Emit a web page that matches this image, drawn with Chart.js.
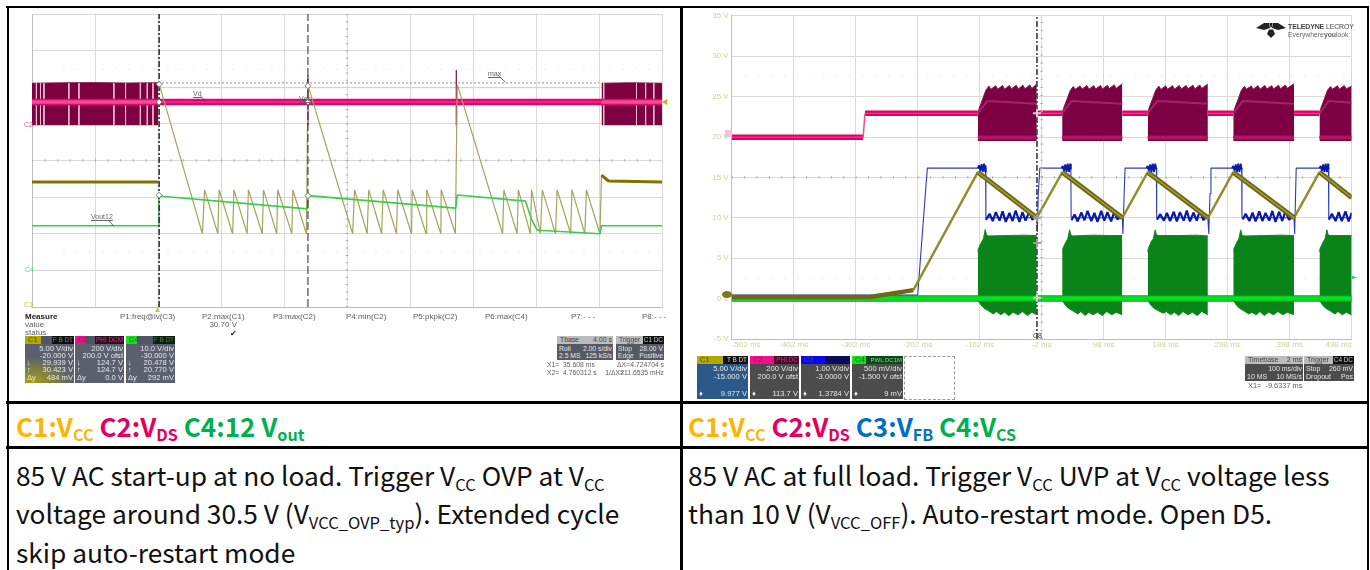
<!DOCTYPE html>
<html><head><meta charset="utf-8">
<script src="https://cdn.jsdelivr.net/npm/chart.js@4/dist/chart.umd.min.js"></script>
<style>
html,body{margin:0;padding:0;background:#fff;width:1370px;height:570px;overflow:hidden}
.a{position:absolute;white-space:nowrap}
.rule{position:absolute;background:#000}
.txt{font-family:"Noto Sans CJK SC","Noto Sans",sans-serif;font-size:26.3px;color:#111;line-height:30px}
.hd{font-family:"Noto Sans CJK SC","Noto Sans",sans-serif;font-size:26px;font-weight:700;line-height:30px}
.txt sub{font-size:.63em;vertical-align:-.28em;line-height:0}
.hd sub{font-size:.62em;vertical-align:-.26em;line-height:0}
.scope{position:absolute;left:0;top:0;width:1370px;height:403px;filter:blur(.5px)}
canvas{position:absolute}
.s{font-family:"Liberation Sans",sans-serif;font-size:8px;color:#5c5c5c;line-height:9px}
.box{position:absolute;font-family:"Liberation Sans",sans-serif;font-size:7.6px;color:#e8e8e8;overflow:hidden}
.box div{position:absolute;white-space:nowrap}
</style></head><body>
<div class="scope" id="scope">
<canvas id="left" width="655" height="305" style="left:20px;top:8px"></canvas>
<canvas id="right" width="675" height="345" style="left:690px;top:8px"></canvas>
</div>
<div class="rule" style="left:6px;top:6px;width:1363px;height:2px"></div>
<div class="rule" style="left:6px;top:401px;width:1363px;height:3px"></div>
<div class="rule" style="left:6px;top:446px;width:1363px;height:3px"></div>
<div class="rule" style="left:7px;top:6px;width:2px;height:564px"></div>
<div class="rule" style="left:680px;top:6px;width:3px;height:564px"></div>
<div class="rule" style="left:1367px;top:6px;width:2px;height:564px"></div>

<div class="a hd" style="left:16px;top:411px"><span style="color:#ffb400">C1:V<sub>CC</sub></span> <span style="color:#e4005c">C2:V<sub>DS</sub></span> <span style="color:#00b050">C4:12 V<sub>out</sub></span></div>
<div class="a hd" style="left:688px;top:411px"><span style="color:#ffb400">C1:V<sub>CC</sub></span> <span style="color:#e4005c">C2:V<sub>DS</sub></span> <span style="color:#0070c0">C3:V<sub>FB</sub></span> <span style="color:#00b050">C4:V<sub>CS</sub></span></div>
<div class="a txt" style="left:16px;top:460px">85 V AC start-up at no load. Trigger V<sub>CC</sub> OVP at V<sub>CC</sub></div>
<div class="a txt" style="left:16px;top:498px">voltage around 30.5 V (V<sub>VCC_OVP_typ</sub>). Extended cycle</div>
<div class="a txt" style="left:16px;top:537px">skip auto-restart mode</div>
<div class="a txt" style="left:688px;top:460px">85 V AC at full load. Trigger V<sub>CC</sub> UVP at V<sub>CC</sub> voltage less</div>
<div class="a txt" style="left:688px;top:498px">than 10 V (V<sub>VCC_OFF</sub>). Auto-restart mode. Open D5.</div>

<script>
/* ---------- left capture: 2 s/div ---------- */
const leftTimeMin = -4, leftTimeMax = 16;
const lVccFlatT = [-4, 0, 0, 14.08, 14.3, 16];
const lVccFlatV = [17.05, 17.05, null, 18, 17.2, 17.05];
const lVccT = [0.04,1.41,1.48,1.90,1.94,2.37,2.41,2.83,2.87,3.31,3.35,3.77,3.80,4.25,4.28,4.71,4.76,
  6.18,6.24,6.64,6.69,7.10,7.15,7.57,7.61,8.05,8.07,8.51,8.53,8.98,8.99,9.44,9.50,
  10.94,10.98,11.40,11.44,11.82,11.86,12.14,12.20,12.62,12.67,13.10,13.14,13.55,13.60,14.03,14.08];
const lVccV = [30.4,10,16,10,16,10,16,10,16,10,16,10,16,10,16,10,30.3,
  10,16,10,16,10,16,10,16,10,16,10,16,10,16,10,30.4,
  10,16,10,16,10,16,10,16,10,16,10,16,10,16,10,18];
const lVoutT = [-4,0,0.03,4.74,4.77,9.45,9.50,11.67,11.85,12.04,12.2,14.03,14.08,16];
const lVoutV = [12.2,12.2,20.3,16.8,20.4,17.0,20.6,18.9,14,11.0,10.9,10.0,12.2,12.2];
const lBurstT = [-4,-3,-2,-1,0,0, 14.08,15,16];
const lBurstTop = [222,224,225,223,224,null,222,224,222];
const lBurstBottom = -7;
const lSlitT = [-3.86,-3.73,-3.62,-2.83,-2.51,-1.40,-1.03,-0.56,-0.34,-0.16,14.15,15.19,15.48,15.74];
const lBandT = [-4,16], lBandV = [119,119];
const lBandLightT = [-4,0,0,14.08,16], lBandLightV = [119,119,null,119,119];
const lSpikeT = [4.76,4.76,4.76,9.47,9.47];
const lSpikeV = [267,-7,null,294,-7];
const lMarkT = [0.0356,4.7603];
const lCursorC1 = [30.4,30.2], lCursorC2 = [119,119], lCursorC4 = [20.5,20.4];
const lLeaderT = [1.35,1.51,1.51,-1.57,-1.41,-1.41,10.78,11.03];
const lLeaderV = [152,125,null,-526,-558,null,267,228];
const lCursorLevels = [30.6,29.94];

/* ---------- right capture: 100 ms/div ---------- */
const rightTimeMin = -502, rightTimeMax = 498;
const rTicks = [-502,-402,-302,-202,-102,-2,98,198,298,398,498];
const rVccBaseT = [-502,-279,-209], rVccBaseV = [0.2,0.2,1.05];
const rVccT = [-209,-105,-10,31.3,128,169,266,307,405,446,498];
const rVccV = [1.05,15.65,10,15.65,10,15.65,10,15.65,10,15.65,12.5];
const rFallT = [-105,-10,-10,31.3,128,128,169,266,266,307,405,405,446,498];
const rFallV = [15.65,10,null,15.65,10,null,15.65,10,null,15.65,10,null,15.65,12.5];
const rDsPlateT = [-502,-290,-290,-287,-105,-105,-10,31,31,128,169,169,266,307,307,405,446];
const rDsPlateV = [-1,-1,null,117,117,null,117,117,null,117,117,null,117,117,null,117,117];
const rDsStepT = [-290,-287], rDsStepV = [-1,117];
const rDsTopT = [-105,-103,-97,-92,-87,-84,-76,-73,-65,-62,-54,-51,-43,-40,-32,-29,-21,-18,-10,-10,
  31,33,39,44,49,52,60,63,71,74,82,85,93,96,104,107,115,118,128,128,
  169,171,177,182,187,190,198,201,209,212,220,223,231,234,242,245,253,256,266,266,
  307,309,315,320,325,328,336,339,347,350,358,361,369,372,380,383,391,394,405,405,
  446,448,454,459,464,467,475,478,486,489,498];
const rDsTopV = [117,140,190,232,252,236,254,236,255,236,255,238,256,238,256,238,258,240,262,null,
  117,140,188,230,250,236,253,237,255,236,254,238,255,238,256,240,258,240,264,null,
  117,142,190,232,252,235,253,236,254,237,255,238,255,239,256,238,257,240,262,null,
  117,140,188,231,251,236,252,237,254,236,255,238,254,238,256,239,257,241,263,null,
  117,140,190,232,250,236,254,237,255,238,252];
const rDsBottom = -20;
const rDsStripeT = [-105,-90,-10,-10,31,46,128,128,169,184,266,266,307,322,405,405,446,461,498];
const rDsStripeV = [117,178,165,null,117,178,165,null,117,178,165,null,117,178,165,null,117,178,170];
const rDsFootT = [-105,-10,-10,31,128,128,169,266,266,307,405,405,446,498];
const rDsFootV = [-3,-3,null,-3,-3,null,-3,-3,null,-3,-3,null,-3,-3];
const rFbThinT = [-502,-202,-186.5,-92.5,-92,-10,-9,-7.5,-5,45,45.5,128,129,131,132.5,183,183.5,266,267.5,269.5,271,320.5,321,405,406,407.5,408.5,460.5,461,498];
const rFbThinV = [.09,.09,3.23,3.23,2,2,1.65,2.6,3.23,3.23,2,2,1.6,2.6,3.23,3.23,2,2,1.6,2.6,3.23,3.23,2,2,1.6,2.6,3.23,3.23,2,2];
const rFbBurstT = [-105,-103,-101,-99,-97,-95,-93,-92.5,-92.5,30,32,34,36,38,40,42,44,45,45,167,169,171,173,175,177,179,181,183,183,305,307,309,311,313,315,317,319,320.5,320.5,446,448,450,452,454,456,458,460,460.5];
const rFbBurstV = [3.23,3.3,3.16,3.33,3.14,3.34,3.14,3.3,null,3.23,3.28,3.16,3.32,3.14,3.34,3.13,3.34,3.2,null,3.23,3.28,3.16,3.32,3.14,3.34,3.13,3.34,3.2,null,3.23,3.28,3.16,3.32,3.14,3.34,3.13,3.34,3.2,null,3.23,3.28,3.16,3.32,3.14,3.34,3.13,3.34,3.2];
const rFbRippleT = [-92,-86,-81,-76,-70,-65,-60,-54,-49,-44,-38,-33,-28,-22,-17,-12,-12,
  46,51,56,62,67,72,78,83,88,94,99,104,110,115,120,126,126,
  184,189,195,200,205,211,216,221,227,232,237,243,248,253,259,264,264,
  322,327,333,338,343,349,354,359,365,370,375,381,386,391,397,403,403,
  461,466,472,477,482,488,493,498];
const rFbRippleV = [1.95,2.1,1.92,2.14,1.93,2.16,1.9,2.12,1.92,2.18,1.9,2.14,1.93,2.16,1.95,2.05,null,
  1.94,2.08,1.91,2.13,1.94,2.17,1.92,2.12,1.9,2.17,1.93,2.14,1.91,2.15,1.96,2.03,null,
  1.95,2.09,1.93,2.12,1.92,2.15,1.91,2.14,1.93,2.18,1.91,2.13,1.93,2.17,1.94,2.05,null,
  1.96,2.1,1.92,2.13,1.91,2.16,1.92,2.12,1.93,2.17,1.9,2.15,1.92,2.16,1.95,2.04,null,
  1.95,2.1,1.92,2.14,1.92,2.16,1.91,2.12];
const rCsTopT = [-105,-104,-99,-96,-93,-91,-88,-60,-30,-10,-10,31,32,37,40,43,45,48,80,110,128,128,169,170,175,178,181,183,186,218,248,266,266,307,308,313,316,319,321,324,356,386,405,405,446,447,452,455,458,460,463,498];
const rCsTopV = [.58,.62,.70,.74,.855,.79,.775,.78,.785,.78,null,.58,.62,.70,.74,.85,.79,.775,.785,.78,.78,null,.58,.62,.71,.74,.85,.79,.78,.78,.785,.775,null,.58,.62,.70,.74,.85,.79,.775,.78,.785,.78,null,.58,.62,.70,.74,.85,.79,.78,.78];
const rCsBotT = [-105,-100,-95,-88,-80,-75,-68,-62,-55,-48,-40,-33,-25,-18,-10,-10,31,36,41,48,56,61,68,74,81,88,96,103,111,118,128,128,169,174,179,186,194,199,206,212,219,226,234,241,249,256,266,266,307,312,317,324,332,337,344,350,357,364,372,379,387,394,405,405,446,451,456,463,471,476,483,489,498];
const rCsBotV = [-.02,-.08,-.12,-.15,-.19,-.16,-.2,-.17,-.21,-.17,-.2,-.16,-.21,-.17,-.2,null,-.02,-.08,-.12,-.15,-.19,-.16,-.21,-.17,-.2,-.17,-.21,-.16,-.2,-.17,-.2,null,-.02,-.08,-.12,-.15,-.18,-.16,-.2,-.17,-.21,-.16,-.2,-.17,-.21,-.16,-.2,null,-.02,-.08,-.12,-.15,-.19,-.17,-.2,-.16,-.21,-.17,-.2,-.16,-.2,-.17,-.2,null,-.02,-.08,-.12,-.15,-.19,-.16,-.2,-.17,-.2];
const rCursorT = [-9.63];
const rCursorC1 = [10], rCursorC2 = [117], rCursorC3 = [1.378], rCursorC4 = [0.009];

const GRID = '#d9d9d9';
function ser(xs, ys, axis, opts){
  return Object.assign({type:'scatter',showLine:true,data:xs.map((x,i)=>({x,y:ys[i]})),yAxisID:axis,
    pointRadius:0,borderWidth:1,borderColor:'#000',fill:false,tension:0,spanGaps:false,borderJoinStyle:'bevel'},opts);
}
function marks(t, v, axis, style){
  return Object.assign({type:'scatter',showLine:false,data:t.map((x,i)=>({x,y:v[i]})),yAxisID:axis},style);
}
const base = {responsive:false,animation:false,events:[],plugins:{legend:{display:false},tooltip:{enabled:false}}};
const grid = {color:GRID,lineWidth:1,drawTicks:false};
const hiddenY = (min,max)=>({display:false,min,max});

/* paint order: first entry is painted first */
const leftSets = [
  ser([-3,16],[32.5,32.5],'c1',{borderColor:'#d6d6d6',borderWidth:1,borderDash:[1,12]}),
  ser([-3,16],[7.5,7.5],'c1',{borderColor:'#d6d6d6',borderWidth:1,borderDash:[1,12]}),
  ser([leftTimeMin,leftTimeMax],[20,20],'c1',{borderColor:'#ababab',borderWidth:2.5,borderDash:[1,11.6]}),
  ser([6,6],[0,40],'c1',{borderColor:'#ababab',borderWidth:2.5,borderDash:[1,6.3]}),
  ser([0,14],[lCursorLevels[0],lCursorLevels[0]],'c1',{borderColor:'#8a8a8a',borderWidth:1,borderDash:[2,2]}),
  ser([0,14],[lCursorLevels[1],lCursorLevels[1]],'c1',{borderColor:'#d2d2d2',borderWidth:1}),
  ser(lBurstT,lBurstTop,'c2',{borderColor:'#7d0a47',borderWidth:1,backgroundColor:'#7d0040',fill:{value:lBurstBottom}}),
  ser(lSlitT.flatMap(t=>[t,t,t]),lSlitT.flatMap(()=>[222,-7,null]),'c2',{borderColor:'#e6bcd0',borderWidth:1}),
  ser(lSpikeT,lSpikeV,'c2',{borderColor:'#7d0a47',borderWidth:1.2}),
  ser(lBandT,lBandV,'c2',{borderColor:'#e2056f',borderWidth:6.5}),
  ser(lBandT,lBandV,'c2',{borderColor:'#ec3288',borderWidth:1.5}),
  ser(lBandLightT,lBandLightV,'c2',{borderColor:'#ee4f96',borderWidth:3.5}),
  ser(lVccT,lVccV,'c1',{borderColor:'#a8a25e',borderWidth:1.2}),
  ser(lVccFlatT,lVccFlatV,'c1',{borderColor:'#7d7400',borderWidth:3}),
  ser(lVoutT,lVoutV,'c4',{borderColor:'#36cf4a',borderWidth:1.6}),
  ser(lLeaderT,lLeaderV,'c2',{borderColor:'#444',borderWidth:.8}),
  ser([lMarkT[0],lMarkT[0]],[0,40],'c1',{borderColor:'#333',borderWidth:1.6,borderDash:[6,2,2,2]}),
  ser([lMarkT[1],lMarkT[1]],[0,40],'c1',{borderColor:'#222',borderWidth:1,borderDash:[8,3]}),
  marks(lMarkT,lCursorC1,'c1',{pointStyle:'rectRot',pointRadius:3,backgroundColor:'#fff',borderColor:'#777',borderWidth:1}),
  marks(lMarkT,lCursorC2,'c2',{pointStyle:'rectRot',pointRadius:3,backgroundColor:'#fff',borderColor:'#777',borderWidth:1}),
  marks(lMarkT,lCursorC4,'c4',{pointStyle:'rectRot',pointRadius:3,backgroundColor:'#fff',borderColor:'#777',borderWidth:1})
];
new Chart(document.getElementById('left'),{type:'scatter',data:{datasets:leftSets.reverse()},options:Object.assign({},base,{
  layout:{padding:{left:12,right:13,top:6,bottom:6}},
  scales:{
    x:{type:'linear',min:leftTimeMin,max:leftTimeMax,grid,border:{color:'#bdbdbd'},ticks:{display:false,stepSize:2}},
    c1:{type:'linear',position:'left',min:0,max:40,grid,border:{color:'#bdbdbd'},ticks:{display:false,stepSize:5}},
    c2:hiddenY(-1000,600),c4:hiddenY(-10,70)
  }})});

const rightSets = [
  ser([-480,rightTimeMax],[27.5,27.5],'c1',{borderColor:'#d8d8d8',borderWidth:1,borderDash:[1,12]}),
  ser([-480,rightTimeMax],[2.5,2.5],'c1',{borderColor:'#d8d8d8',borderWidth:1,borderDash:[1,12]}),
  ser([rightTimeMin,rightTimeMax],[15,15],'c1',{borderColor:'#ababab',borderWidth:2.5,borderDash:[1,11.4]}),
  ser(rDsTopT,rDsTopV,'c2',{borderColor:'#8a1050',borderWidth:1,backgroundColor:'#7d0044',fill:{value:rDsBottom}}),
  ser(rDsStripeT,rDsStripeV,'c2',{borderColor:'#a32466',borderWidth:2}),
  ser(rDsFootT,rDsFootV,'c2',{borderColor:'#b0155f',borderWidth:4}),
  ser(rDsPlateT,rDsPlateV,'c2',{borderColor:'#df0068',borderWidth:5.5}),
  ser(rDsPlateT,rDsPlateV,'c2',{borderColor:'#f23a8c',borderWidth:1.2}),
  ser(rDsStepT,rDsStepV,'c2',{borderColor:'#e8508e',borderWidth:1.5}),
  ser(rCsTopT,rCsTopV,'c4',{borderColor:'#0c8a1c',borderWidth:1,backgroundColor:'#0a8418',fill:{value:0}}),
  ser(rCsBotT,rCsBotV,'c4',{borderColor:'#0c8a1c',borderWidth:1,backgroundColor:'#0a8418',fill:{value:0}}),
  ser([rightTimeMin,rightTimeMax],[0,0],'c4',{borderColor:'#0f9a24',borderWidth:6.5}),
  ser([rightTimeMin,rightTimeMax],[0,0],'c4',{borderColor:'#05e020',borderWidth:4.5}),
  ser(rFbThinT,rFbThinV,'c3',{borderColor:'#2b3bb8',borderWidth:1.1}),
  ser(rFbBurstT,rFbBurstV,'c3',{borderColor:'#0a1aa8',borderWidth:1.8}),
  ser(rFbRippleT,rFbRippleV,'c3',{borderColor:'#0a1aa8',borderWidth:2.2}),
  ser(rVccBaseT,rVccBaseV,'c1',{borderColor:'#6f6a12',borderWidth:4.5}),
  ser(rVccT,rVccV,'c1',{borderColor:'#8f8d2c',borderWidth:2.4}),
  ser(rFallT,rFallV,'c1',{borderColor:'#6f6a12',borderWidth:5}),
  ser(rFallT,rFallV,'c1',{borderColor:'#a4a040',borderWidth:1.3}),
  ser([-2,-2],[-5,35],'c1',{borderColor:'#ababab',borderWidth:2.5,borderDash:[1,7.1]}),
  ser([rCursorT[0],rCursorT[0]],[-5,35],'c1',{borderColor:'#3c3c3c',borderWidth:1.6,borderDash:[6,2,2,2]}),
  marks(rCursorT,rCursorC1,'c1',{pointStyle:'cross',pointRadius:4,borderColor:'#9c9c9c',borderWidth:2}),
  marks(rCursorT,rCursorC2,'c2',{pointStyle:'cross',pointRadius:4,borderColor:'#d4d4d4',borderWidth:2}),
  marks(rCursorT,rCursorC3,'c3',{pointStyle:'cross',pointRadius:4,borderColor:'#9c9c9c',borderWidth:2}),
  marks(rCursorT,rCursorC4,'c4',{pointStyle:'cross',pointRadius:4,borderColor:'#d4d4d4',borderWidth:2})
];
const tickFont = {family:'"Liberation Sans",sans-serif',size:8};
new Chart(document.getElementById('right'),{type:'scatter',data:{datasets:rightSets.reverse()},options:Object.assign({},base,{
  layout:{padding:{left:0,right:13.3,top:6,bottom:0}},
  scales:{
    x:{type:'linear',min:rightTimeMin,max:rightTimeMax,grid,border:{color:'#bdbdbd'},
      afterBuildTicks:s=>{s.ticks=rTicks.map(value=>({value}));},
      afterFit:s=>{s.height=14;},
      ticks:{color:'#cfcf98',font:tickFont,padding:1,maxRotation:0,autoSkip:false,align:'inner',callback:v=>v+' ms'}},
    c1:{type:'linear',position:'left',min:-5,max:35,grid,border:{color:'#bdbdbd'},
      afterFit:s=>{s.width=41.7;},
      ticks:{color:'#cfcf98',font:tickFont,padding:3,stepSize:5,callback:v=>v+' V'}},
    c2:hiddenY(-1000,600),c3:hiddenY(-1,7),c4:hiddenY(-0.5,3.5)
  }})});

/* ---------- scope read-outs (real text) ---------- */
const scope = document.getElementById('scope');
function label(x,y,t,css){const d=document.createElement('div');d.className='a s';d.style.cssText+='left:'+x+'px;top:'+y+'px;'+(css||'');d.innerHTML=t;scope.appendChild(d);return d;}
function rlabel(r,y,t,css){const d=label(0,y,t,css);d.style.left='auto';d.style.right=(1370-r)+'px';return d;}
label(25,312,'Measure','font-weight:700;color:#222');label(25,320,'value');label(25,328,'status');
[[120,'P1:freq@lv(C3)'],[202,'P2:max(C1)'],[273,'P3:max(C2)'],[346,'P4:min(C2)'],[413,'P5:pkpk(C2)'],[485,'P6:max(C4)'],[571,'P7:- - -'],[642,'P8:- - -']].forEach(p=>label(p[0],312,p[1]));
rlabel(237,320,'30.70 V');rlabel(237,329,'✔','color:#222');
[[193,89,'Vd'],[91,212,'Vout12'],[488,69,'max'],[299,94,'Vcc']].forEach(p=>label(p[0],p[1],p[2],'font-size:7px;text-decoration:underline;color:#666'));
label(24,120,'C2','color:#e8559a;font-size:7px');label(25,265,'C4','color:#55d860;font-size:7px');label(24,300,'C1','color:#c8c040;font-size:7px');
label(1033,331,'C8','color:#333;font-size:7px');
function tri(x,y,w,h,c,path){const d=document.createElement('div');d.className='a';d.style.cssText='left:'+x+'px;top:'+y+'px;width:'+w+'px;height:'+h+'px;background:'+c+';clip-path:'+path;scope.appendChild(d);}
tri(662,99,5,6,'#e8a020','polygon(100% 0,100% 100%,0 50%)');
tri(155,307,5,5,'#c8c040','polygon(50% 0,100% 100%,0 100%)');
tri(1352,276,5,3,'#20d040','polygon(0 0,100% 50%,0 100%)');
tri(725,130,7,7,'#f5c0d8','polygon(0 0,100% 0,100% 100%,0 100%)');
tri(722,291,10,7,'#7d7818','ellipse(50% 50%)');

function box(x,y,w,h,bg,rows,head){
  const b=document.createElement('div');b.className='box';b.style.cssText='left:'+x+'px;top:'+y+'px;width:'+w+'px;height:'+h+'px;background:'+bg+(head.fs?';font-size:'+head.fs+'px':'');
  const hh=head.h||8;
  const s=document.createElement('div');s.style.cssText='left:0;top:0;width:100%;height:'+hh+'px;background:'+head.bg;b.appendChild(s);
  const c=document.createElement('div');c.style.cssText='left:0;top:0;width:'+head.w+'px;height:'+hh+'px;background:'+head.c+';color:#444;padding-left:3px;box-sizing:border-box;line-height:'+hh+'px';c.textContent=head.n;b.appendChild(c);
  if(head.t){const t=document.createElement('div');t.style.cssText='right:0;top:0;padding:0 1px;font-size:'+(head.tf||6.4)+'px;line-height:'+hh+'px;color:'+head.tc+';background:'+(head.tb||'transparent');t.textContent=head.t;b.appendChild(t);}
  rows.forEach(r=>{const a=document.createElement('div');a.style.cssText='right:1px;top:'+r[0]+'px;line-height:8px';a.textContent=r[1];b.appendChild(a);
    if(r[2]){const l=document.createElement('div');l.style.cssText='left:2px;top:'+r[0]+'px;line-height:8px';l.textContent=r[2];b.appendChild(l);}});
  scope.appendChild(b);return b;
}
box(25,336,49,47,'radial-gradient(ellipse 42px 26px at 15% 100%,#a8a010,#5a6070)',
  [[9,'5.00 V/div'],[15.5,'-20.000 V'],[23,'29.939 V','↓'],[30,'30.423 V','↑'],[38,'484 mV','Δy']],
  {n:'C1',c:'#b5a800',w:16,bg:'#505664',t:'F B DT',tc:'#777',tb:'#111'});
box(75,336,49,47,'#5a6070',[[9,'200 V/div'],[15.5,'200.0 V ofst'],[23,'124.7 V','↓'],[30,'124.7 V','↑'],[38,'0.0 V','Δy']],
  {n:'C2',c:'#f0108a',w:11,bg:'#505664',t:'PHI DCM',tc:'#c0388a',tb:'#33101f'});
box(126,336,49,47,'#5a6070',[[9,'10.0 V/div'],[15.5,'-30.000 V'],[23,'20.478 V','↓'],[30,'20.770 V','↑'],[38,'292 mV','Δy']],
  {n:'C4',c:'#18e018',w:11,bg:'#505664',t:'F B DT',tc:'#3a8a3a',tb:'#0c200c'});

box(557,336,56,24,'#555963',[[9,'2.00 s/div','Roll'],[16,'125 kS/s','2.5 MS']],{n:'Tbase',c:'#bcbcbc',w:56,bg:'#bcbcbc',t:'4.00 s',tc:'#444',tf:7,fs:6.8,h:8});
box(616,336,48,24,'#555963',[[9,'28.00 V','Stop'],[16,'Positive','Edge']],{n:'Trigger',c:'#bcbcbc',w:48,bg:'#bcbcbc',t:'C1 DC',tc:'#ccc',tb:'#111',fs:6.8,h:8});
const cursorFont='font-size:6.8px';
label(547,360,'X1=&nbsp; 35.608 ms',cursorFont);rlabel(630,360,'ΔX=',cursorFont);rlabel(664,360,'4.724704 s',cursorFont);
label(547,368,'X2=&nbsp; 4.760312 s',cursorFont);rlabel(624,368,'1/ΔX=',cursorFont);rlabel(664,368,'211.6535 mHz',cursorFont);

box(697,356,51,43,'#2c5a88',[[9,'5.00 V/div'],[17,'-15.000 V'],[34,'9.977 V','♦']],{n:'C1',c:'#b5a800',w:26,bg:'#111',t:'T B DT',tc:'#ddd',h:8});
box(750,356,49,43,'#4c4c4c',[[9,'200 V/div'],[17,'200.0 V ofst'],[34,'113.7 V','♦']],{n:'C2',c:'#f0108a',w:24,bg:'#4a0a28',t:'PHI DC',tc:'#c0388a',h:8});
box(801,356,49,43,'#4c4c4c',[[9,'1.00 V/div'],[17,'-3.0000 V'],[34,'1.3784 V','♦']],{n:'C3',c:'#0808f0',w:24,bg:'#0a0a60',t:'',tc:'#88a',h:8});
box(852,356,51,43,'#4c4c4c',[[9,'500 mV/div'],[17,'-1.500 V ofst'],[34,'9 mV','♦']],{n:'C4',c:'#18e018',w:14,bg:'#0a4a14',t:'PWL DC1M',tc:'#9c9',tf:6,h:8});
const empty=document.createElement('div');empty.className='a';empty.style.cssText='left:904px;top:356px;width:49px;height:42px;border:1px dashed #999';scope.appendChild(empty);
box(1245,356,58,25,'#4c4c4c',[[9,'100 ms/div'],[17,'10 MS/s','10 MS']],{n:'Timebase',c:'#bcbcbc',w:58,bg:'#bcbcbc',t:'2 ms',tc:'#444',tf:7,fs:7,h:8});
box(1304,356,50,25,'#4c4c4c',[[9,'260 mV','Stop'],[17,'Pos','Dropout']],{n:'Trigger',c:'#bcbcbc',w:50,bg:'#bcbcbc',t:'C4 DC',tc:'#ccc',tb:'#111',fs:7,h:8});
label(1248,381,'X1= &nbsp;-9.6337 ms','font-size:7.4px');

label(1288,22,'TELEDYNE <span style="font-weight:400">LECROY</span>','font-size:7px;font-weight:700;color:#444;letter-spacing:-.15px');
label(1288,29.5,'Everywhere<b>you</b>look','font-size:6.8px;color:#666');
const logo=document.createElementNS('http://www.w3.org/2000/svg','svg');
logo.setAttribute('width','30');logo.setAttribute('height','16');logo.style.cssText='position:absolute;left:1256px;top:22px';
logo.innerHTML='<path fill="#222" d="M0 6 L8 1 L13 1 L14 6 L8 8Z M30 6 L22 1 L17 1 L16 6 L22 8Z M13.5 1 L16.5 1 L15.6 5.5 L14.4 5.5Z M13 7.5 L17 7.5 L19 12 L15 16 L11 12Z"/>';
scope.appendChild(logo);
</script>
</body></html>
